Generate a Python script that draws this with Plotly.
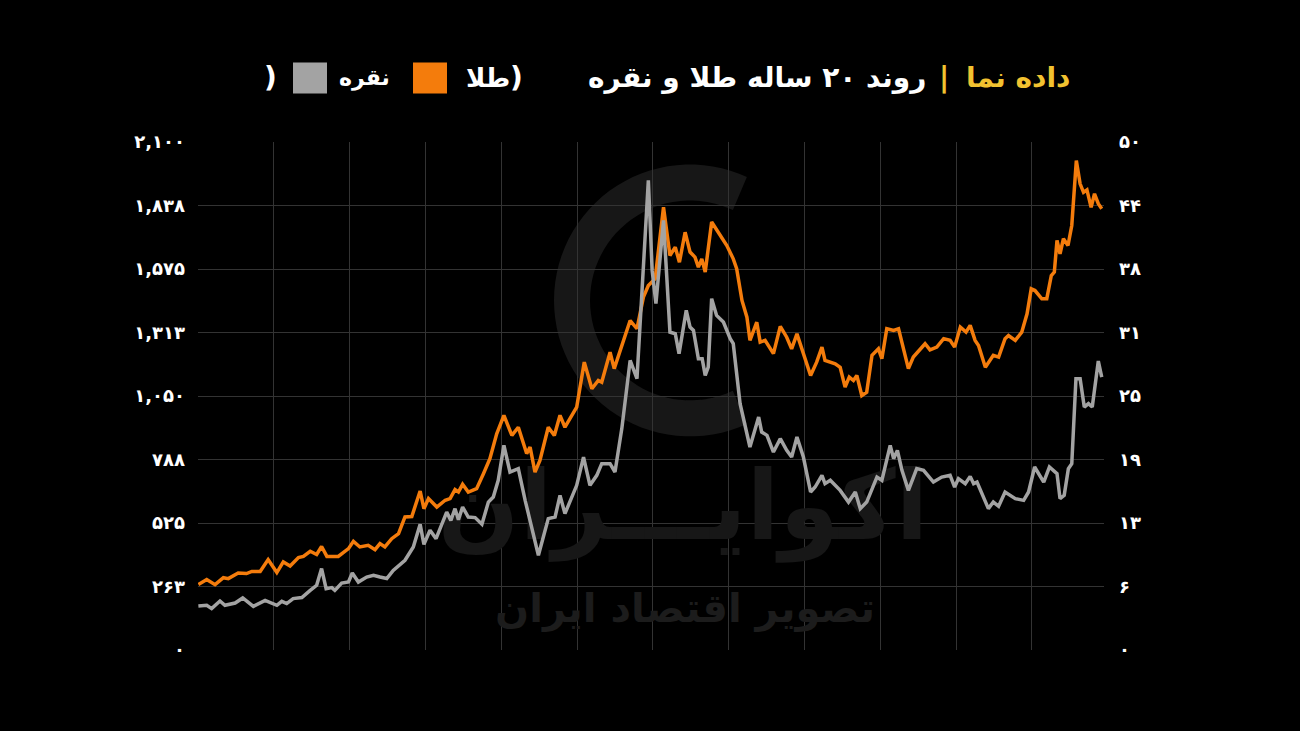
import math
import plotly.graph_objects as go

# ---------------- data ----------------
# x = month index over the 20-year window (0 .. 239)
gold_month = [0.1,2.3,4.5,6.7,8.0,10.6,12.8,14.2,16.4,18.5,20.8,22.5,24.3,26.5,27.8,29.6,31.3,32.6,34.0,37.0,
              39.7,41.0,42.7,44.9,46.7,48.0,49.3,51.1,52.9,54.6,56.4,58.6,59.6,60.8,63.0,65.2,66.5,67.8,68.7,69.8,
              71.3,73.5,75.3,77.0,78.8,80.7,82.8,84.5,86.7,87.6,88.9,90.2,92.4,94.0,95.5,96.8,99.9,101.9,103.9,105.6,
              106.5,108.7,109.8,112.2,114.0,115.8,117.5,118.8,120.6,122.8,124.5,125.9,127.0,128.5,129.8,131.1,132.0,132.9,133.8,135.5,
              137.3,139.5,141.2,142.1,143.5,144.8,145.6,147.4,148.3,149.6,151.8,153.6,155.3,156.6,158.0,159.7,161.6,163.2,164.6,165.4,
              168.1,169.4,170.7,171.8,172.9,173.8,175.1,176.4,177.8,179.5,180.4,181.7,183.5,184.8,186.1,187.4,188.7,190.1,191.8,193.1,
              194.9,196.7,198.4,199.6,201.1,202.6,203.7,205.0,205.9,207.7,209.8,211.2,212.9,213.8,215.6,217.3,218.7,219.8,220.8,222.6,
              223.9,225.1,225.9,226.6,227.4,228.3,229.5,230.5,231.7,232.7,233.6,234.5,235.6,236.5,237.5,238.4]
gold_price = [271,291,270,299,295,318,316,325,325,374,320,364,347,382,387,408,395,428,387,387,
              419,449,426,433,415,440,426,460,481,550,552,657,584,626,591,619,626,663,653,685,
              653,667,729,791,894,970,887,921,812,839,735,784,921,887,970,921,1004,1190,1080,1114,
              1107,1231,1163,1280,1362,1328,1459,1507,1535,1830,1631,1665,1603,1727,1645,1624,1583,1617,1562,1769,
              1727,1672,1617,1576,1445,1376,1280,1355,1273,1280,1225,1338,1293,1245,1307,1225,1135,1190,1252,1197,
              1183,1169,1087,1128,1114,1135,1052,1066,1218,1245,1204,1328,1321,1328,1238,1163,1211,1238,1266,1241,
              1252,1287,1280,1252,1335,1314,1342,1280,1259,1169,1218,1211,1287,1300,1280,1314,1390,1493,1486,1452,
              1452,1548,1562,1693,1638,1700,1672,1755,2023,1927,1892,1902,1830,1886,1845,1824]

silver_month = [0.1,2.3,3.6,5.8,7.1,9.8,11.8,14.6,17.7,20.8,22.1,23.4,25.1,27.4,29.6,31.3,32.6,33.8,35.3,36.1,
                37.9,39.7,40.7,42.3,44.5,46.3,48.0,49.8,51.5,54.6,56.8,58.6,59.6,61.2,62.8,65.6,66.7,67.8,68.7,69.8,
                71.3,73.1,74.9,76.6,77.9,79.2,80.7,82.3,84.5,86.3,89.8,92.4,94.2,95.5,96.8,99.9,101.7,103.4,105.2,106.5,
                108.7,110.0,111.8,114.0,115.8,117.1,118.8,119.8,120.8,122.8,123.7,124.5,125.9,126.9,128.8,129.8,130.7,132.0,133.0,133.8,
                134.6,135.5,136.8,138.6,140.4,141.2,143.0,145.6,147.9,148.7,150.1,151.8,153.6,155.3,156.6,158.0,159.7,161.6,162.8,164.6,
                165.4,166.8,169.4,171.6,173.4,174.7,176.4,179.1,180.4,182.6,183.5,184.5,185.7,187.4,189.6,191.4,194.0,196.2,198.4,199.6,
                200.6,202.4,203.7,204.6,205.5,208.5,209.8,211.2,212.9,215.6,217.8,219.1,220.7,223.1,224.6,226.6,227.4,228.5,229.6,230.5,
                231.6,232.7,233.8,234.9,235.9,236.6,237.5,238.4]
silver_price = [4.33,4.40,4.07,4.82,4.40,4.62,5.12,4.30,4.89,4.40,4.79,4.57,5.06,5.16,5.87,6.37,8.01,6.04,6.14,5.87,
                6.59,6.69,7.58,6.69,7.18,7.35,7.18,7.03,7.84,8.83,10.14,12.37,10.40,11.78,10.96,13.58,12.76,13.91,12.83,14.07,
                13.09,13.03,12.37,14.56,15.06,16.70,20.14,17.52,17.85,14.73,9.32,12.93,13.09,15.22,13.42,16.21,18.99,16.21,17.19,18.34,
                18.34,17.52,21.79,28.51,26.71,34.74,46.22,37.36,34.09,42.28,36.70,31.29,31.13,29.17,33.43,31.78,31.46,28.67,28.67,27.03,
                27.85,34.58,32.93,32.28,30.64,30.15,24.25,19.98,22.93,21.45,21.13,19.48,20.80,19.65,18.99,20.96,18.99,15.55,16.04,17.19,
                16.37,16.70,15.71,14.56,15.55,13.91,14.56,17.02,16.70,20.14,18.83,19.65,17.68,15.71,17.85,17.68,16.53,17.02,17.19,16.04,
                16.87,16.37,17.09,16.37,16.53,13.91,14.56,14.14,15.55,14.90,14.73,15.55,18.01,16.53,18.01,17.36,14.90,15.22,17.85,18.34,
                26.71,26.71,23.91,24.25,23.91,26.21,28.44,26.86]

assert len(gold_month) == len(gold_price)
assert len(silver_month) == len(silver_price)

gold_tickvals = [0, 262.5, 525, 787.5, 1050, 1312.5, 1575, 1837.5, 2100]
gold_ticktext = ["۰", "۲۶۳", "۵۲۵", "۷۸۸", "۱,۰۵۰", "۱,۳۱۳", "۱,۵۷۵", "۱,۸۳۸", "۲,۱۰۰"]
silver_tickvals = [0, 6.25, 12.5, 18.75, 25, 31.25, 37.5, 43.75, 50]
silver_ticktext = ["۰", "۶", "۱۳", "۱۹", "۲۵", "۳۱", "۳۸", "۴۴", "۵۰"]

GOLD_COLOR = "#F47C0C"
SILVER_COLOR = "#A3A3A3"
TITLE_YELLOW = "#F2C230"
GRID = "#333333"
FONT = "DejaVu Sans, Noto Sans, sans-serif"

# ---------------- layout geometry ----------------
W, H = 1300, 731
PL, PR, PT, PB = 198, 1104, 141.5, 649.7   # plot area in pixels
X_MAX = 239

def px_x(px):
    return (px - PL) / (PR - PL)

def px_y(py):
    return (PB - py) / (PB - PT)

def data_x(px):
    return (px - PL) / (PR - PL) * X_MAX

def data_y(py):
    return (PB - py) / (PB - PT) * 2100

fig = go.Figure()

# faint watermark (under the lines)
fig.add_trace(go.Scatter(
    x=[data_x(683), data_x(685)], y=[data_y(515), data_y(612)],
    mode="text", text=["<b>اکوایـــران</b>", "<b>تصویر اقتصاد ایران</b>"],
    textfont=dict(family=FONT, size=[96, 40], color=["#171717", "#1c1c1c"]),
    hoverinfo="skip", showlegend=False, cliponaxis=False,
))

fig.add_trace(go.Scatter(
    x=silver_month, y=silver_price, yaxis="y2", mode="lines", name="نقره",
    line=dict(color=SILVER_COLOR, width=3.5), showlegend=False,
))
fig.add_trace(go.Scatter(
    x=gold_month, y=gold_price, mode="lines", name="طلا",
    line=dict(color=GOLD_COLOR, width=3.5), showlegend=False,
))

fig.update_layout(
    width=W, height=H,
    paper_bgcolor="#000000", plot_bgcolor="#000000",
    margin=dict(l=PL, r=W - PR, t=PT, b=H - PB, pad=0),
    font=dict(family=FONT, color="#FFFFFF"),
    xaxis=dict(range=[0, X_MAX], tickvals=list(range(0, 240, 20)), showticklabels=False,
               showgrid=True, gridcolor=GRID, gridwidth=1, zeroline=False, showline=False, ticks=""),
    yaxis=dict(range=[0, 2100], tickvals=gold_tickvals, ticktext=["<b>%s</b>" % t for t in gold_ticktext],
               showgrid=True, gridcolor=GRID, gridwidth=1, zeroline=False, showline=False, ticks="",
               tickfont=dict(family=FONT, size=18, color="#FFFFFF"), ticklabelstandoff=12),
    yaxis2=dict(range=[0, 50], overlaying="y", side="right", tickvals=silver_tickvals,
                ticktext=["<b>%s</b>" % t for t in silver_ticktext],
                showgrid=False, zeroline=False, showline=False, ticks="",
                tickfont=dict(family=FONT, size=18, color="#FFFFFF"), ticklabelstandoff=14),
    showlegend=False,
)

# watermark logo: a thick "C" arc drawn below the data
cx, cy, rad = 690, 300, 118
pts = []
for i in range(0, 61):
    a = math.radians(65 + i * (230 / 60))
    pts.append((px_x(cx + rad * math.cos(a)), px_y(cy - rad * math.sin(a))))
path = "M " + " L ".join("%.4f,%.4f" % p for p in pts)
fig.add_shape(type="path", path=path, xref="paper", yref="paper", layer="below",
              line=dict(color="#171717", width=36))

TY = px_y(77)
title_parts = [
    ("داده نما", 1072, TITLE_YELLOW, 28),
    ("|", 951, TITLE_YELLOW, 28),
    ("روند ۲۰ ساله طلا و نقره", 928, "#FFFFFF", 28),
    (")", 525, "#FFFFFF", 28),
    ("طلا", 512, "#FFFFFF", 26),
    ("نقره", 392, "#FFFFFF", 22),
    (")", 279, "#FFFFFF", 28),
]
for txt, xr, col, sz in title_parts:
    fig.add_annotation(text="<b>%s</b>" % txt, x=px_x(xr), y=TY, xref="paper", yref="paper",
                       xanchor="right", yanchor="middle", showarrow=False,
                       font=dict(family=FONT, size=sz, color=col))

for x0, x1, col in [(413, 447, GOLD_COLOR), (293, 327, SILVER_COLOR)]:
    fig.add_shape(type="rect", xref="paper", yref="paper",
                  x0=px_x(x0), x1=px_x(x1), y0=px_y(93), y1=px_y(62),
                  fillcolor=col, line=dict(width=0))

fig.write_html("out.html", config={"displayModeBar": False},
               post_script="document.body.style.margin='0';")
